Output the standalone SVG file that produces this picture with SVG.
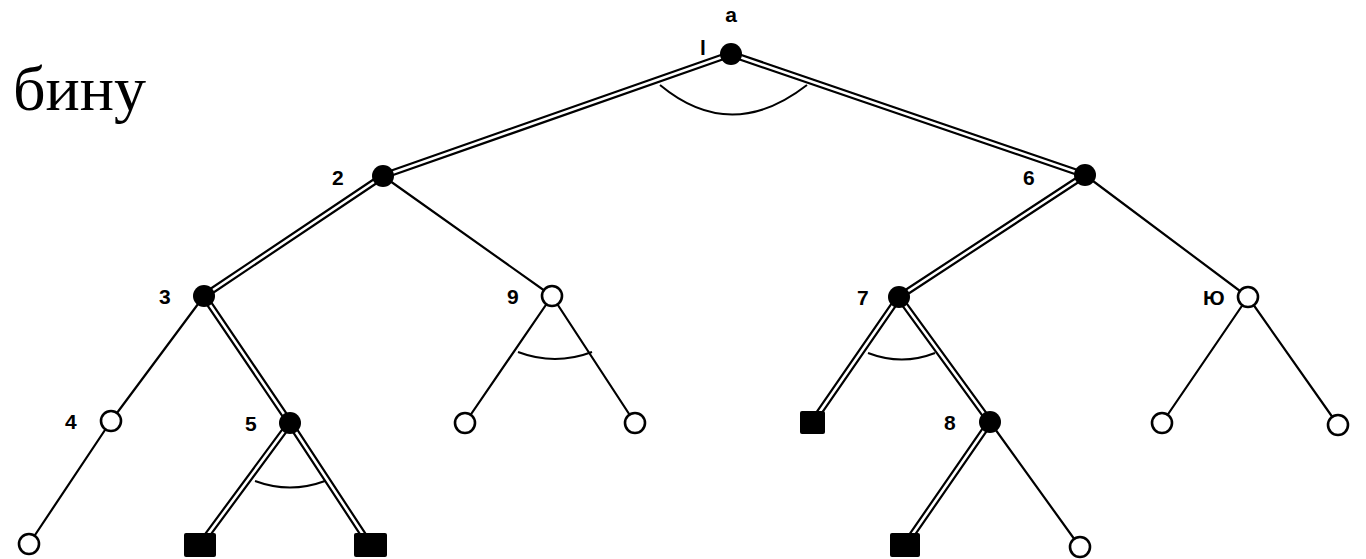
<svg xmlns="http://www.w3.org/2000/svg" width="1366" height="559" viewBox="0 0 1366 559">
  <style>
    .dbl-out { stroke: #000; stroke-width: 7; fill: none; }
    .dbl-in { stroke: #fff; stroke-width: 2.6; fill: none; }
    .single { stroke: #000; stroke-width: 2.2; fill: none; }
    .arc { stroke: #000; stroke-width: 2; fill: none; }
    .solved { fill: #000; }
    .open { fill: #fff; stroke: #000; stroke-width: 2.6; }
    .lbl { font-family: "Liberation Sans", Arial, sans-serif; font-weight: bold; font-size: 21px; fill: #000; }
    .title { font-family: "Liberation Serif", "Times New Roman", serif; font-size: 64px; fill: #000; }
  </style>

  <rect width="1366" height="559" fill="#fff"/>

  <text class="title" x="146" y="110" text-anchor="end">бину</text>

  <!-- connectors: double lines mark the solution subtree -->
  <g id="connectors">
    <g id="double-edges">
      <path class="dbl-out" d="M731,54 L383,176 M731,54 L1085,175 M383,176 L204,296 M1085,175 L899,297 M204,296 L290,423 M290,423 L200,545 M290,423 L370,545 M899,297 L812,423 M899,297 L990,422 M990,422 L905,545"/>
      <path class="dbl-in" d="M731,54 L383,176 M731,54 L1085,175 M383,176 L204,296 M1085,175 L899,297 M204,296 L290,423 M290,423 L200,545 M290,423 L370,545 M899,297 L812,423 M899,297 L990,422 M990,422 L905,545"/>
    </g>
    <path class="single" d="M383,176 L552,296 M1085,175 L1248,297 M204,296 L111,421 M111,421 L29,544 M552,296 L465,423 M552,296 L635,423 M1248,297 L1162,423 M1248,297 L1338,425 M990,422 L1080,547"/>
    <!-- AND-node arcs -->
    <path class="arc" d="M660,85 Q731,144 807,85"/>
    <path class="arc" d="M518,352 Q555,366 592,352"/>
    <path class="arc" d="M255,481 Q290,494 325,481"/>
    <path class="arc" d="M868,353 Q902,366 935,353"/>
  </g>

  <g id="n1"><circle class="solved" cx="731" cy="54" r="11"/><text class="lbl" x="731" y="22" text-anchor="middle">a</text><text class="lbl" x="700" y="55">l</text></g>
  <g id="n2"><circle class="solved" cx="383" cy="176" r="11"/><text class="lbl" x="332" y="185">2</text></g>
  <g id="n6"><circle class="solved" cx="1085" cy="175" r="11"/><text class="lbl" x="1023" y="185">6</text></g>
  <g id="n3"><circle class="solved" cx="204" cy="296" r="11"/><text class="lbl" x="159" y="304">3</text></g>
  <g id="n9"><circle class="open" cx="552" cy="296" r="10"/><text class="lbl" x="507" y="304">9</text></g>
  <g id="n7"><circle class="solved" cx="899" cy="297" r="11"/><text class="lbl" x="857" y="305">7</text></g>
  <g id="n10"><circle class="open" cx="1248" cy="297" r="10"/><text class="lbl" x="1203" y="305">Ю</text></g>
  <g id="n4"><circle class="open" cx="111" cy="421" r="10"/><text class="lbl" x="65" y="429">4</text></g>
  <g id="n5"><circle class="solved" cx="290" cy="423" r="11"/><text class="lbl" x="245" y="431">5</text></g>
  <g id="n9a"><circle class="open" cx="465" cy="423" r="10"/></g>
  <g id="n9b"><circle class="open" cx="635" cy="423" r="10"/></g>
  <g id="n7a"><rect class="solved" x="800" y="411" width="25" height="23" rx="2"/></g>
  <g id="n8"><circle class="solved" cx="990" cy="422" r="11"/><text class="lbl" x="944" y="430">8</text></g>
  <g id="n10a"><circle class="open" cx="1162" cy="423" r="10"/></g>
  <g id="n10b"><circle class="open" cx="1338" cy="425" r="10"/></g>
  <g id="n4a"><circle class="open" cx="29" cy="544" r="10"/></g>
  <g id="n5a"><rect class="solved" x="184" y="533" width="32" height="24" rx="2"/></g>
  <g id="n5b"><rect class="solved" x="354" y="533" width="33" height="24" rx="2"/></g>
  <g id="n8a"><rect class="solved" x="890" y="533" width="30" height="24" rx="2"/></g>
  <g id="n8b"><circle class="open" cx="1080" cy="547" r="10"/></g>
</svg>
